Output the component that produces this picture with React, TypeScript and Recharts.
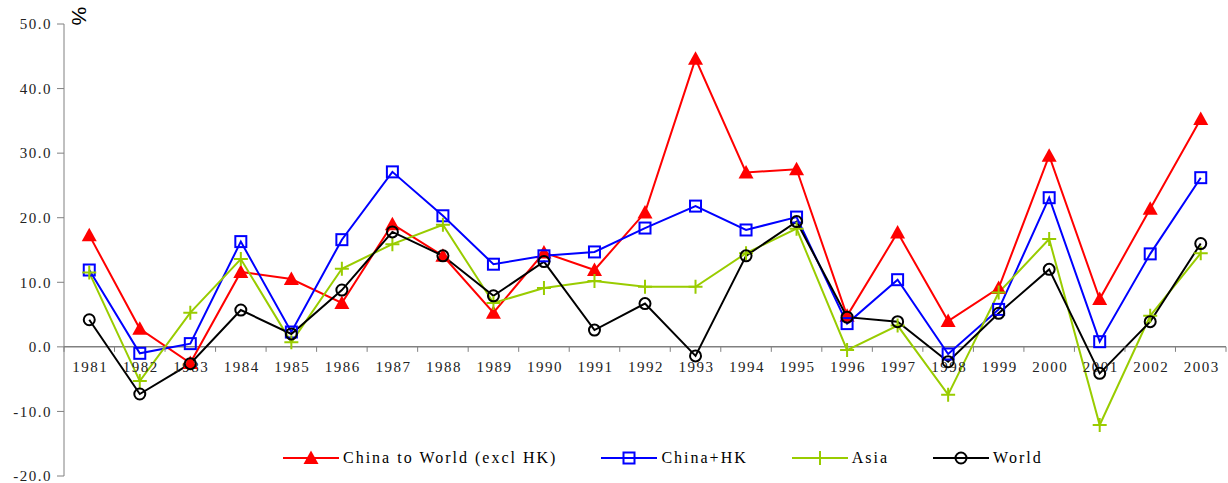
import {
  LineChart,
  Line,
  XAxis,
  YAxis,
  ReferenceLine,
  ReferenceDot,
  Legend,
} from "recharts";

const years = [
  "1981", "1982", "1983", "1984", "1985", "1986", "1987", "1988", "1989", "1990", "1991", "1992",
  "1993", "1994", "1995", "1996", "1997", "1998", "1999", "2000", "2001", "2002", "2003",
];
const chinaToWorld = [
  17.3, 2.8, -2.5, 11.6, 10.5, 6.8, 19.0, 14.1, 5.3, 14.6, 11.9, 20.8,
  44.6, 27.0, 27.5, 4.8, 17.7, 4.0, 9.1, 29.6, 7.4, 21.4, 35.3,
];
const chinaHK = [
  11.9, -1.0, 0.5, 16.3, 2.3, 16.6, 27.1, 20.3, 12.8, 14.1, 14.7, 18.4,
  21.8, 18.1, 20.1, 3.6, 10.4, -1.1, 5.8, 23.1, 0.8, 14.4, 26.2,
];
const asia = [
  11.5, -5.3, 5.3, 13.6, 0.7, 12.1, 15.9, 18.9, 6.8, 9.1, 10.2, 9.3,
  9.3, 14.5, 18.3, -0.5, 3.3, -7.4, 8.4, 16.7, -12.1, 4.8, 14.5,
];
const world = [
  4.2, -7.3, -2.6, 5.7, 2.0, 8.8, 17.8, 14.1, 7.9, 13.2, 2.6, 6.7,
  -1.4, 14.1, 19.4, 4.6, 3.9, -2.3, 5.2, 12.0, -4.1, 3.9, 16.0,
];
const yTicks = [-20, -10, 0, 10, 20, 30, 40, 50];

const data = years.map((year, i) => ({
  year,
  chinaToWorld: chinaToWorld[i],
  chinaHK: chinaHK[i],
  asia: asia[i],
  world: world[i],
}));

const W = 1228;
const H = 483;
const MARGIN = { top: 24, right: 2, bottom: 7, left: 0 };
const Y_W = 64;
const BAND = (W - Y_W - MARGIN.right - MARGIN.left) / years.length;
const FONT = "'Liberation Serif', 'Times New Roman', serif";

const RED = "#ff0000";
const BLUE = "#0000ff";
const GREEN = "#99cc00";
const BLACK = "#000000";

function marker(kind: string, cx: number, cy: number, key?: any) {
  if (cx == null || cy == null) return <g key={key} />;
  if (kind === "triangle")
    return (
      <path key={key} d={`M${cx},${cy - 7.5} L${cx + 7.5},${cy + 6} L${cx - 7.5},${cy + 6} Z`} fill={RED} />
    );
  if (kind === "square")
    return <rect key={key} x={cx - 5.5} y={cy - 5.5} width={11} height={11} fill="none" stroke={BLUE} strokeWidth={2} />;
  if (kind === "plus")
    return (
      <path key={key} d={`M${cx - 7},${cy} H${cx + 7} M${cx},${cy - 7} V${cy + 7}`} stroke={GREEN} strokeWidth={2} />
    );
  return <circle key={key} cx={cx} cy={cy} r={5.5} fill="none" stroke={BLACK} strokeWidth={2} />;
}

const series = [
  { key: "chinaToWorld", name: "China to World (excl HK)", color: RED, kind: "triangle" },
  { key: "chinaHK", name: "China+HK", color: BLUE, kind: "square" },
  { key: "asia", name: "Asia", color: GREEN, kind: "plus" },
  { key: "world", name: "World", color: BLACK, kind: "circle" },
];

function LegendBox() {
  return (
    <div style={{ display: "flex", alignItems: "center", fontFamily: FONT, fontSize: 16, letterSpacing: 2 }}>
      {series.map((s) => (
        <div key={s.key} style={{ display: "flex", alignItems: "center", marginRight: 44 }}>
          <svg width={56} height={18} style={{ marginRight: 4 }}>
            <line x1={0} y1={9} x2={56} y2={9} stroke={s.color} strokeWidth={2} />
            {marker(s.kind, 28, 9)}
          </svg>
          <span>{s.name}</span>
        </div>
      ))}
    </div>
  );
}

function YearLabel(year: string, last: boolean) {
  return (props: any) => {
    const { cx, cy } = props;
    return (
      <g>
        <line x1={cx - BAND / 2} y1={cy} x2={cx - BAND / 2} y2={cy + 5} stroke="#808080" strokeWidth={1} />
        {last && <line x1={cx + BAND / 2} y1={cy} x2={cx + BAND / 2} y2={cy + 5} stroke="#808080" strokeWidth={1} />}
        <text x={cx + 1} y={cy + 25} textAnchor="middle" fontFamily={FONT} fontSize={15} letterSpacing={1.5} fill="#222">
          {year}
        </text>
      </g>
    );
  };
}

export default function App() {
  return (
    <div style={{ position: "absolute", left: 0, top: 0, width: W, height: H, background: "#fff" }}>
      <LineChart width={W} height={H} data={data} margin={MARGIN}>
        <XAxis dataKey="year" scale="band" hide />
        <YAxis
          width={Y_W}
          domain={[-20, 50]}
          ticks={yTicks}
          interval={0}
          tickFormatter={(v: number) => v.toFixed(1)}
          stroke="#808080"
          tickSize={7}
          tickMargin={5}
          tick={{ fill: "#222", fontFamily: FONT, fontSize: 15, letterSpacing: 1.5 }}
        />
        <ReferenceLine y={0} stroke="#808080" strokeWidth={1.5} />
        {years.map((y, i) => (
          <ReferenceDot key={y} x={y} y={0} r={0} shape={YearLabel(y, i === years.length - 1)} />
        ))}
        {series.map((s) => (
          <Line
            key={s.key}
            type="linear"
            dataKey={s.key}
            name={s.name}
            stroke={s.color}
            strokeWidth={2}
            dot={(p: any) => marker(s.kind, p.cx, p.cy, p.key ?? `${s.key}-${p.index}`)}
            activeDot={false}
            isAnimationActive={false}
          />
        ))}
        <Legend
          layout="horizontal"
          verticalAlign="middle"
          align="center"
          content={() => <LegendBox />}
          wrapperStyle={{ top: 449, left: 283, width: 900 }}
        />
      </LineChart>
      <div
        style={{
          position: "absolute",
          left: 70,
          top: 4,
          fontFamily: "'Liberation Sans', Arial, sans-serif",
          fontSize: 21,
          transform: "rotate(90deg)",
          transformOrigin: "center",
        }}
      >
        %
      </div>
    </div>
  );
}
